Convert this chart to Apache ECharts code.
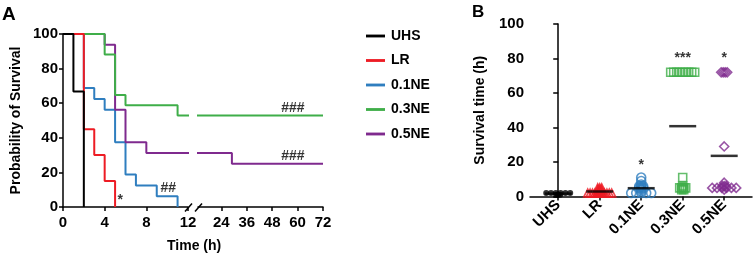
<!DOCTYPE html>
<html><head><meta charset="utf-8">
<script src="https://cdn.jsdelivr.net/npm/echarts@6/dist/echarts.min.js"></script>
<style>html,body{margin:0;padding:0;background:#fff}#c{width:754px;height:255px}</style>
</head><body><div id="c"></div>
<script>
// ---------- Panel A: Kaplan-Meier curves [time (h), % survival] ----------
const kmUHS  = [[0,100],[1,66.7],[2,0]];
const kmLR   = [[0,100],[2,45],[3,30],[4,15],[5,0]];
const km01NE = [[0,100],[2,68.75],[3,62.5],[4,56.25],[5,37.5],[6,18.75],[7,12.5],[9,6.25],[11,0]];
const km03NE = [[0,100],[4,88.2],[5,64.7],[6,58.8],[11,52.9],[72,52.9]];
const km05NE = [[0,100],[4,93.75],[5,56.25],[6,37.5],[8,31.25],[29,25],[72,25]];
const groupNames = ['UHS','LR','0.1NE','0.3NE','0.5NE'];
const xTicksLate = [24,36,48,60,72];
// significance marks on panel A
const sigAEarlyText = ['*','##'];
const sigAEarlyX = [5.5,10.1];
const sigAEarlyY = [4,11];
const sigALateText = ['###','###'];
const sigALateX = [57.8,57.8];
const sigALateY = [57,29.5];

// ---------- Panel B: individual survival times (h) ----------
const survUHS  = [1,1,1,2,2,2,2,2,2];
const survLR   = [2,2,2,2,2,2,2,2,2,2,2,3,3,3,4,4,4,5,5,5];
const surv01NE = [2,2,2,2,2,3,4,5,5,5,6,6,6,7,9,11];
const surv03NE = [4,4,5,5,5,5,6,11,72,72,72,72,72,72,72,72,72];
const surv05NE = [4,5,5,5,5,5,5,6,6,6,8,29,72,72,72,72];
const sigBText = ['','','*','***','*'];
const sigBY = [0,0,18,80,80];

// ---------- styling ----------
const colors = ['#000000','#ed1c24','#2f7ebf','#3fae49','#7f2a8e'];
const FONT = '"Liberation Sans", Arial, sans-serif';
const txt = {fontFamily:FONT, fontWeight:'bold', fontSize:14, color:'#000'};
const tick = {...txt, fontSize:15};
const axLine = {show:true, lineStyle:{color:'#000', width:1.5}};
const bMin = -0.68, bMax = 4.67, bLeft = 530, bWidth = 222;
const pxPerUnit = bWidth/(bMax-bMin);

function swarm(vals, gi){
  const counts = {}, seen = {};
  vals.forEach(v => counts[v] = (counts[v]||0)+1);
  return vals.map(v => {
    const k = counts[v];
    const i = (seen[v] = (seen[v]||0)+1) - 1;
    const step = k<=1 ? 0 : (k<=4 ? 2 : Math.min(5, 24/(k-1)));
    return [gi + (i-(k-1)/2)*step/pxPerUnit, v];
  });
}
const mean = a => a.reduce((s,v)=>s+v,0)/a.length;

const km = [km01NE, km05NE, km03NE, kmLR, kmUHS];
const kmIdx = [2,4,3,1,0];
const series = [];
km.forEach((d,j) => {
  const gi = kmIdx[j];
  [0,1].forEach(g => series.push({
    type:'line', name:groupNames[gi], xAxisIndex:g, yAxisIndex:g, data:d, step:'end',
    showSymbol:false, symbol:'none', color:colors[gi], lineStyle:{width:2, color:colors[gi]},
    animation:false, clip:true
  }));
});
series.push({
  type:'scatter', xAxisIndex:0, yAxisIndex:0, symbolSize:0, animation:false,
  data: sigAEarlyText.map((t,i)=>({value:[sigAEarlyX[i], sigAEarlyY[i]], name:t})),
  label:{show:true, position:'inside', formatter:'{b}', ...txt}
});
series.push({
  type:'scatter', xAxisIndex:1, yAxisIndex:1, symbolSize:0, animation:false,
  data: sigALateText.map((t,i)=>({value:[sigALateX[i], sigALateY[i]], name:t})),
  label:{show:true, position:'inside', formatter:'{b}', ...txt}
});

const survAll = [survUHS, survLR, surv01NE, surv03NE, surv05NE];
const symbols = ['circle','triangle','circle','rect','diamond'];
const sizes = [6,8,9,8,9];
survAll.forEach((vals,gi) => {
  series.push({
    type:'scatter', xAxisIndex:2, yAxisIndex:2, animation:false,
    data: swarm(vals, gi), symbol:symbols[gi], symbolSize:sizes[gi],
    itemStyle: gi===0 ? {color:'#000'} : {color:'rgba(0,0,0,0)', borderColor:colors[gi], borderWidth:1.6}
  });
});
series.push({
  type:'scatter', xAxisIndex:2, yAxisIndex:2, animation:false, z:5,
  symbol:'rect', symbolSize:[27,2.5], itemStyle:{color:'#000'},
  data: survAll.map((v,gi)=>[gi, mean(v)])
});
series.push({
  type:'scatter', xAxisIndex:2, yAxisIndex:2, symbolSize:0, animation:false,
  data: sigBText.map((t,i)=>({value:[i, sigBY[i]], name:t})).filter(d=>d.name),
  label:{show:true, position:'inside', formatter:'{b}', ...txt}
});

const option = {
  backgroundColor:'#fff',
  animation:false,
  title:[
    {text:'A', left:2, top:5, padding:0, textStyle:{...txt, fontSize:19}},
    {text:'B', left:472, top:4, padding:0, textStyle:{...txt, fontSize:17}},
    {text:'Time (h)', left:167, top:239, padding:0, textStyle:{...txt}}
  ],
  legend:{
    orient:'vertical', left:361, top:24, itemWidth:19, itemHeight:14, itemGap:10.5,
    icon:'path://M0,0H20V3H0Z', selectedMode:false, data:groupNames,
    textStyle:{...txt, padding:[0,0,0,1]}
  },
  grid:[
    {left:63, top:34, width:125, height:173},
    {left:198, top:34, width:125, height:173},
    {left:bLeft, top:24, width:bWidth, height:172.5}
  ],
  xAxis:[
    {gridIndex:0, type:'value', min:0, max:12, interval:4, axisLine:axLine,
     axisTick:{show:true, length:4, lineStyle:{color:'#000', width:1.5}},
     axisLabel:{...tick, margin:8}, splitLine:{show:false}},
    {gridIndex:1, type:'value', min:13, max:72, axisLine:axLine,
     axisTick:{show:true, length:4, customValues:xTicksLate, lineStyle:{color:'#000', width:1.5}},
     axisLabel:{...tick, margin:8, customValues:xTicksLate}, splitLine:{show:false}},
    {gridIndex:2, type:'value', min:bMin, max:bMax, axisLine:axLine,
     axisTick:{show:true, length:4, customValues:[0,1,2,3,4], lineStyle:{color:'#000', width:1.5}},
     axisLabel:{...tick, margin:6, rotate:45, customValues:[0,1,2,3,4], formatter:v=>groupNames[Math.round(v)]},
     splitLine:{show:false}}
  ],
  yAxis:[
    {gridIndex:0, type:'value', min:0, max:100, interval:20, axisLine:axLine,
     axisTick:{show:true, length:4, lineStyle:{color:'#000', width:1.5}},
     axisLabel:{...tick, margin:5}, splitLine:{show:false},
     name:'Probability of Survival', nameLocation:'middle', nameGap:40, nameTextStyle:{...txt}},
    {gridIndex:1, type:'value', min:0, max:100, show:false, splitLine:{show:false}},
    {gridIndex:2, type:'value', min:0, max:100, interval:20, axisLine:axLine,
     axisTick:{show:true, length:5, lineStyle:{color:'#000', width:1.5}},
     axisLabel:{...tick, margin:6}, splitLine:{show:false},
     name:'Survival time (h)', nameLocation:'middle', nameGap:43, nameTextStyle:{...txt}}
  ],
  graphic:[
    {type:'line', shape:{x1:185, y1:211.5, x2:192, y2:203.5}, style:{stroke:'#000', lineWidth:1.5}},
    {type:'line', shape:{x1:195, y1:211.5, x2:202, y2:203.5}, style:{stroke:'#000', lineWidth:1.5}}
  ],
  series
};
const chart = echarts.init(document.getElementById('c'), null, {renderer:'canvas'});
chart.setOption(option);
</script>
</body></html>
